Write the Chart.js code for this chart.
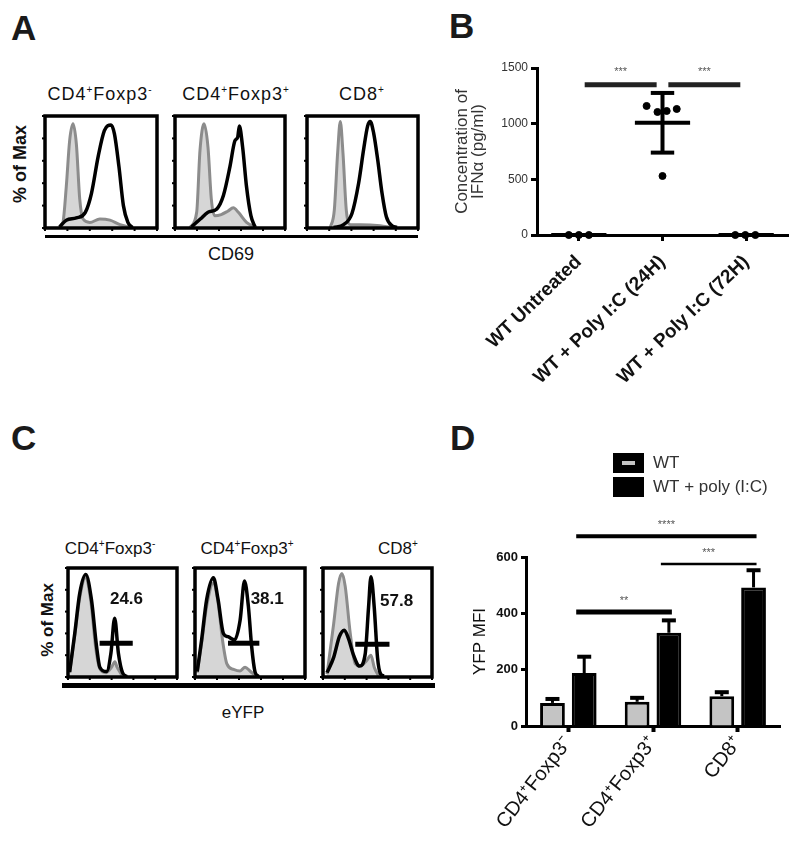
<!DOCTYPE html>
<html>
<head>
<meta charset="utf-8">
<script src="https://cdn.jsdelivr.net/npm/chart.js@4.4.0/dist/chart.umd.min.js"></script>
<style>
  body { margin: 0; background: #fff; width: 800px; height: 842px; position: relative; overflow: hidden;
         font-family: "Liberation Sans", Arial, sans-serif; color: #111; }
  canvas { position: absolute; }
  .letter { position: absolute; font-size: 35px; font-weight: bold; line-height: 1; color: #1a1a1a; }
  .t { position: absolute; transform: translate(-50%, -50%); white-space: nowrap; line-height: 1; }
  .rot { transform: translate(-50%, -50%) rotate(-90deg); }
  .rule { position: absolute; background: #000; }
  .ha { font-size: 18px; letter-spacing: 1px; }
  .ha sup, .hc sup { font-size: 10px; }
  .hc { font-size: 17px; }
</style>
</head>
<body>
<div class="letter" style="left:11px;top:10px">A</div>
<div class="letter" style="left:449px;top:8px">B</div>
<div class="letter" style="left:11px;top:420px">C</div>
<div class="letter" style="left:450px;top:420px">D</div>

<!-- panel A text -->
<div class="t ha" style="left:100px;top:94px">CD4<sup>+</sup>Foxp3<sup>-</sup></div>
<div class="t ha" style="left:236px;top:94px">CD4<sup>+</sup>Foxp3<sup>+</sup></div>
<div class="t ha" style="left:362px;top:94px">CD8<sup>+</sup></div>
<div class="t rot" style="left:20px;top:164px;font-size:18px;font-weight:bold">% of Max</div>
<div class="rule" style="left:45px;top:235px;width:373px;height:3px"></div>
<div class="t" style="left:231px;top:254px;font-size:18px">CD69</div>

<!-- panel C text -->
<div class="t hc" style="left:110px;top:548px">CD4<sup>+</sup>Foxp3<sup>-</sup></div>
<div class="t hc" style="left:247px;top:548px">CD4<sup>+</sup>Foxp3<sup>+</sup></div>
<div class="t hc" style="left:398px;top:548px">CD8<sup>+</sup></div>
<div class="t rot" style="left:47px;top:620px;font-size:17px;font-weight:bold">% of Max</div>
<div class="rule" style="left:62px;top:683px;width:373px;height:5px"></div>
<div class="t" style="left:243px;top:712px;font-size:17px">eYFP</div>

<canvas id="a1"></canvas><canvas id="a2"></canvas><canvas id="a3"></canvas>
<canvas id="c1"></canvas><canvas id="c2"></canvas><canvas id="c3"></canvas>
<canvas id="chartB" width="380" height="350" style="left:420px;top:50px"></canvas>
<canvas id="chartD" width="380" height="402" style="left:420px;top:440px"></canvas>

<script>
// ---- Panel A: CD69 histograms (x = % of axis, y = % of max) ----
const a1Black = [[13,1],[19,7],[28,9],[36,14],[41.5,31],[47.5,64],[53,87],[59,92],[62,84],[66,55],[70,20],[74,5],[78,0.5]];
const a1Grey = [[12,0],[16,5],[19,37],[22,78],[25,93],[28,75],[31,26],[34,8],[40,5],[49,8],[58,7],[67,3],[76,0.5]];
const a2Black = [[15,1],[23,8],[30,14],[38,17],[44,29],[50,55],[54.5,78],[57,81],[58.5,91],[61.5,72],[65,37],[69,11],[72.7,1]];
const a2Grey = [[13.6,0.5],[19.7,14],[22.7,69],[26.4,93],[30,72],[33,26],[36,11],[42,12],[48,15],[53,18],[57.6,14],[65,5],[74,0.5]];
const a3Black = [[24,0.5],[33,3],[40.5,13],[46.5,40],[51,70],[54.6,91],[57,95],[60,85],[63.7,61],[67.6,31],[71.5,10],[76.6,2],[81,0.5]];
const a3Grey = [[21,0.5],[24.6,16],[27.6,67],[30,95],[32.4,67],[35.4,16],[39,3],[48,3],[66,2],[75,0.5]];

// ---- Panel C: eYFP histograms ----
const c1Black = [[1.5,4.6],[6.2,40],[10.8,77],[16.3,94],[21.5,71],[26.2,28],[29.2,9],[35.4,5],[39.4,22],[42.8,54],[46.2,22],[50,4],[54,0.5]];
const c1Grey = [[1.5,4],[6,37],[11,74],[16,91],[21,69],[25.5,26],[29,8],[35,4],[40,9],[43,14],[45,9],[49.5,1.5]];
const c2Black = [[2,5],[6,34],[10.6,71],[16.7,91],[21,71],[25.8,40],[30,37],[36,34],[41,52],[45,88],[48.5,65],[51.5,28],[54.5,5],[57.6,0.5]];
const c2Grey = [[2,4],[6,31],[10.6,65],[16.7,86],[21,68],[25,34],[29,12],[35,7],[41,5.5],[45.5,9],[50,5.5],[54.5,1.5]];
const c3Black = [[3.7,4],[9.8,18],[15,37],[19.5,43],[23.5,35],[28,20],[33.5,10],[38.7,21],[41.8,64],[44,92],[47,64],[50,18],[53,2.5],[56,1]];
const c3Grey = [[3.7,2.5],[9.8,49],[14.3,86],[17.4,95],[20.4,83],[25,40],[29.6,12],[34,10],[40,15],[44,20],[47,9],[51,1]];
const cGates = [[29,59.4,31],[30,58.5,31],[29.6,61,30]];
const cGateValues = ['24.6', '38.1', '57.8'];

// ---- Panel B: IFNa concentration ----
const bCategories = ['WT Untreated', 'WT + Poly I:C (24H)', 'WT + Poly I:C (72H)'];
const bUntreated = [0, 0, 0];
const bPolyIC24 = [1159, 1105, 1114, 1132, 530];
const bPolyIC72 = [0, 0, 0];
const bMean = [0, 1008, 0];
const bSD = [0, 268, 0];
const bTicks = [0, 500, 1000, 1500];
const bSig = [[0, 1, '***'], [1, 2, '***']];

// ---- Panel D: YFP MFI ----
const dCategories = ['CD4⁺Foxp3⁻', 'CD4⁺Foxp3⁺', 'CD8⁺'];
const dSeries = ['WT', 'WT + poly (I:C)'];
const dWT = [82, 86, 106];
const dWTErr = [14, 14, 14];
const dPoly = [188, 331, 492];
const dPolyErr = [58, 44, 61];
const dSig = [[0, 1, 405, '**'], [1, 2, 575, '***'], [0, 2, 674, '****']];

const FONT = '"Liberation Sans", Arial, sans-serif';
Chart.defaults.font.family = FONT;
Chart.defaults.color = '#111';
Chart.defaults.animation = false;

// boxes of the six histograms: [left, top, width, height]
const histBoxes = {
    a1: [45, 116, 112, 112], a2: [175, 116, 110, 112], a3: [307, 116, 111, 112],
    c1: [68, 568, 109, 109], c2: [195, 568, 110, 109], c3: [323, 568, 109, 109]
};
const gateLabelPos = [[38.5, 71], [50.6, 71], [52.4, 69]];

const boxPlugin = {
    id: 'box',
    afterDatasetsDraw(chart, args, opts) {
        const { ctx, chartArea: a, scales: { x, y } } = chart;
        ctx.save();
        ctx.strokeStyle = '#000';
        ctx.lineWidth = 2;
        for (let v = 0; v <= 100; v += 20) {
            const py = y.getPixelForValue(v), px = x.getPixelForValue(v);
            ctx.beginPath(); ctx.moveTo(a.left - 3, py); ctx.lineTo(a.left, py); ctx.stroke();
            ctx.beginPath(); ctx.moveTo(px, a.bottom); ctx.lineTo(px, a.bottom + 3); ctx.stroke();
        }
        ctx.lineWidth = 3.5;
        ctx.strokeRect(a.left, a.top, a.right - a.left, a.bottom - a.top);
        if (opts.gate) {
            const [g0, g1, gy] = opts.gate;
            ctx.lineWidth = 5;
            ctx.beginPath();
            ctx.moveTo(x.getPixelForValue(g0), y.getPixelForValue(gy));
            ctx.lineTo(x.getPixelForValue(g1), y.getPixelForValue(gy));
            ctx.stroke();
            ctx.fillStyle = '#111';
            ctx.font = 'bold 17px ' + FONT;
            ctx.textAlign = 'left';
            ctx.textBaseline = 'middle';
            ctx.fillText(opts.label, x.getPixelForValue(opts.labelAt[0]), y.getPixelForValue(opts.labelAt[1]));
        }
        ctx.restore();
    }
};

function histogram(id, black, grey, gateIndex) {
    const [l, t, w, h] = histBoxes[id];
    const canvas = document.getElementById(id);
    canvas.width = w + 12;
    canvas.height = h + 12;
    canvas.style.left = (l - 6) + 'px';
    canvas.style.top = (t - 6) + 'px';
    const toXY = arr => arr.map(([x, y]) => ({ x, y }));
    const boxOpts = gateIndex === undefined ? {} : {
        gate: cGates[gateIndex], label: cGateValues[gateIndex], labelAt: gateLabelPos[gateIndex]
    };
    new Chart(canvas, {
        type: 'line',
        data: {
            datasets: [
                { data: toXY(black), borderColor: '#000', borderWidth: 3.5, fill: false,
                  pointRadius: 0, cubicInterpolationMode: 'monotone' },
                { data: toXY(grey), borderColor: '#8c8c8c', backgroundColor: '#d6d6d6', borderWidth: 3,
                  fill: 'origin', pointRadius: 0, cubicInterpolationMode: 'monotone' }
            ]
        },
        options: {
            responsive: false,
            layout: { padding: 6 },
            plugins: { legend: { display: false }, tooltip: { enabled: false }, box: boxOpts },
            scales: {
                x: { type: 'linear', min: 0, max: 100, display: false },
                y: { min: 0, max: 100, display: false }
            }
        },
        plugins: [boxPlugin]
    });
}

histogram('a1', a1Black, a1Grey);
histogram('a2', a2Black, a2Grey);
histogram('a3', a3Black, a3Grey);
histogram('c1', c1Black, c1Grey, 0);
histogram('c2', c2Black, c2Grey, 1);
histogram('c3', c3Black, c3Grey, 2);

// ---- Panel B ----
const bGroups = [bUntreated, bPolyIC24, bPolyIC72];
const bJitter = [[-0.12, 0, 0.12], [-0.19, -0.06, 0.05, 0.17, 0], [-0.13, -0.01, 0.11]];

const bStatsPlugin = {
    id: 'bStats',
    afterDatasetsDraw(chart) {
        const { ctx, scales: { x, y } } = chart;
        ctx.save();
        ctx.strokeStyle = '#000';
        ctx.lineWidth = 4;
        const hline = (x0, x1, v) => {
            ctx.beginPath();
            ctx.moveTo(x.getPixelForValue(x0), y.getPixelForValue(v));
            ctx.lineTo(x.getPixelForValue(x1), y.getPixelForValue(v));
            ctx.stroke();
        };
        bMean.forEach((m, g) => {
            hline(g - 0.33, g + 0.33, m);
            if (bSD[g] > 0) {
                hline(g - 0.14, g + 0.14, m + bSD[g]);
                hline(g - 0.14, g + 0.14, m - bSD[g]);
                ctx.beginPath();
                ctx.moveTo(x.getPixelForValue(g), y.getPixelForValue(m - bSD[g]));
                ctx.lineTo(x.getPixelForValue(g), y.getPixelForValue(m + bSD[g]));
                ctx.stroke();
            }
        });
        ctx.strokeStyle = '#222';
        ctx.lineWidth = 5;
        ctx.fillStyle = '#555';
        ctx.font = '11px ' + FONT;
        ctx.textAlign = 'center';
        ctx.textBaseline = 'middle';
        bSig.forEach(([a, b, stars]) => {
            hline(a + 0.07, b - 0.07, 1350);
            ctx.fillText(stars, x.getPixelForValue((a + b) / 2), y.getPixelForValue(1480) + 2);
        });
        ctx.restore();
    }
};

new Chart(document.getElementById('chartB'), {
    type: 'scatter',
    data: {
        datasets: [{
            data: bGroups.flatMap((vals, g) => vals.map((v, i) => ({ x: g + bJitter[g][i], y: v }))),
            pointRadius: 3.5, backgroundColor: '#000', borderColor: '#000', clip: false
        }]
    },
    options: {
        responsive: false,
        layout: { padding: { top: 18, right: 12, bottom: 5, left: 0 } },
        plugins: { legend: { display: false }, tooltip: { enabled: false } },
        scales: {
            x: {
                type: 'linear', min: -0.5, max: 2.5,
                afterBuildTicks: s => { s.ticks = bCategories.map((_, i) => ({ value: i })); },
                afterFit: s => { s.height = 160; },
                grid: { drawOnChartArea: false, color: '#000', tickLength: 6, tickWidth: 3 },
                border: { color: '#000', width: 3 },
                ticks: { callback: v => bCategories[v], minRotation: 44, maxRotation: 44, autoSkip: false,
                         font: { size: 19, weight: 'bold' }, color: '#111', padding: 10 }
            },
            y: {
                min: 0, max: 1500,
                afterBuildTicks: s => { s.ticks = bTicks.map(v => ({ value: v })); },
                afterFit: s => { s.width = 117; },
                grid: { drawOnChartArea: false, color: '#000', tickLength: 6, tickWidth: 3 },
                border: { color: '#000', width: 3 },
                ticks: { callback: v => String(v), font: { size: 12 }, color: '#333', padding: 3 },
                title: { display: true, text: ['Concentration of', 'IFNα (pg/ml)'], color: '#333',
                         font: { size: 17, lineHeight: 0.95 }, padding: { top: 34, bottom: 0 } }
            }
        }
    },
    plugins: [bStatsPlugin]
});

// ---- Panel D ----
const dSigWidths = [5, 2.5, 4];

const dExtrasPlugin = {
    id: 'dExtras',
    afterDatasetsDraw(chart) {
        const { ctx, scales: { y } } = chart;
        ctx.save();
        ctx.strokeStyle = '#000';
        [dWTErr, dPolyErr].forEach((errs, di) => {
            const meta = chart.getDatasetMeta(di);
            meta.data.forEach((bar, i) => {
                const top = y.getPixelForValue(chart.data.datasets[di].data[i] + errs[i]);
                ctx.lineWidth = 3;
                ctx.beginPath(); ctx.moveTo(bar.x, bar.y); ctx.lineTo(bar.x, top); ctx.stroke();
                ctx.lineWidth = 4;
                ctx.beginPath(); ctx.moveTo(bar.x - 7, top); ctx.lineTo(bar.x + 7, top); ctx.stroke();
            });
        });
        const poly = chart.getDatasetMeta(1).data;
        ctx.fillStyle = '#555';
        ctx.font = '11px ' + FONT;
        ctx.textAlign = 'center';
        ctx.textBaseline = 'middle';
        dSig.forEach(([a, b, level, stars], k) => {
            const py = y.getPixelForValue(level);
            const x0 = poly[a].x - 8, x1 = poly[b].x + 3;
            ctx.lineWidth = dSigWidths[k];
            ctx.beginPath(); ctx.moveTo(x0, py); ctx.lineTo(x1, py); ctx.stroke();
            ctx.fillText(stars, (x0 + x1) / 2, py - 11);
        });
        // legend
        ctx.font = '17px ' + FONT;
        ctx.textAlign = 'left';
        dSeries.forEach((name, i) => {
            const top = 13 + i * 24;
            ctx.fillStyle = '#000';
            ctx.fillRect(193, top, 31, 20);
            if (i === 0) {
                ctx.fillStyle = '#c4c4c4';
                ctx.fillRect(202, top + 8, 13, 4);
            }
            ctx.fillStyle = '#333';
            ctx.fillText(name, 233, top + 10);
        });
        ctx.restore();
    }
};

new Chart(document.getElementById('chartD'), {
    type: 'bar',
    data: {
        labels: dCategories,
        datasets: [
            { label: dSeries[0], data: dWT, backgroundColor: '#c4c4c4', borderColor: '#000', borderWidth: 3,
              categoryPercentage: 0.75, barPercentage: 0.78 },
            { label: dSeries[1], data: dPoly, backgroundColor: '#000', borderColor: '#000', borderWidth: 3,
              categoryPercentage: 0.75, barPercentage: 0.78 }
        ]
    },
    options: {
        responsive: false,
        layout: { padding: { top: 117, right: 20, bottom: 6, left: 0 } },
        plugins: { legend: { display: false }, tooltip: { enabled: false } },
        scales: {
            x: {
                afterFit: s => { s.height = 110; },
                grid: { offset: false, drawOnChartArea: false, color: '#000', tickLength: 6, tickWidth: 4 },
                border: { color: '#000', width: 3 },
                ticks: { minRotation: 52, maxRotation: 52, font: { size: 20 }, color: '#111', padding: 0 }
            },
            y: {
                min: 0, max: 600,
                afterFit: s => { s.width = 106; },
                grid: { drawOnChartArea: false, color: '#000', tickLength: 5, tickWidth: 3 },
                border: { color: '#000', width: 3 },
                ticks: { stepSize: 200, font: { size: 13, weight: 'bold' }, color: '#111', padding: 3 },
                title: { display: true, text: 'YFP MFI', color: '#111', font: { size: 17 },
                         padding: { top: 50, bottom: 0 } }
            }
        }
    },
    plugins: [dExtrasPlugin]
});
</script>
</body>
</html>
